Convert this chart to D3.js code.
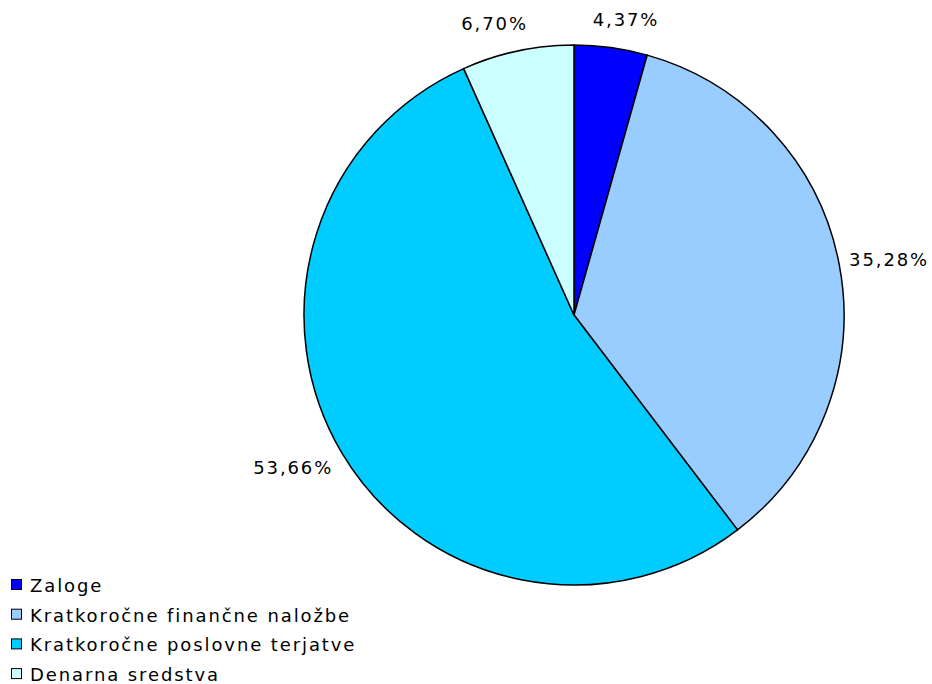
<!DOCTYPE html>
<html>
<head>
<meta charset="utf-8">
<script src="https://cdn.jsdelivr.net/npm/d3@7"></script>
<style>
  html, body { margin: 0; padding: 0; background: #ffffff; }
  svg { display: block; }
  text { font-family: "DejaVu Sans", Verdana, sans-serif; fill: #000; letter-spacing: 1.9px; }
</style>
</head>
<body>
<svg id="chart" width="932" height="684"></svg>
<script>
// Sestava kratkoročnih sredstev (deleži v %)
const categories = [
  "Zaloge",
  "Kratkoročne finančne naložbe",
  "Kratkoročne poslovne terjatve",
  "Denarna sredstva"
];
const shares = [4.37, 35.28, 53.66, 6.70];
const labels = ["4,37%", "35,28%", "53,66%", "6,70%"];
const colors = ["#0000FF", "#99CCFF", "#00CCFF", "#CCFFFF"];

const svg = d3.select("#chart");
const cx = 574, cy = 315, radius = 270;
const fontSize = 18;

const data = categories.map((c, i) => ({ name: c, value: shares[i], label: labels[i], color: colors[i] }));

const pie = d3.pie().value(d => d.value).sort(null);
const arcs = pie(data);
const arc = d3.arc().innerRadius(0).outerRadius(radius);

const g = svg.append("g").attr("transform", `translate(${cx},${cy})`);

g.selectAll("path.slice")
  .data(arcs)
  .enter().append("path")
  .attr("class", "slice")
  .attr("d", arc)
  .attr("fill", d => d.data.color)
  .attr("stroke", "#000")
  .attr("stroke-width", 1.5)
  .attr("stroke-linejoin", "round");

// Percentage labels outside the rim; the text box is shifted away from the
// anchor point along the mid-angle so it never overlaps the slice.
const gapX = 10, gapY = 18;
const lbl = g.selectAll("text.pct")
  .data(arcs)
  .enter().append("text")
  .attr("class", "pct")
  .attr("font-size", fontSize)
  .attr("text-anchor", "middle")
  .attr("dominant-baseline", "central")
  .text(d => d.data.label);

lbl.each(function(d) {
  const a = (d.startAngle + d.endAngle) / 2;
  const s = Math.sin(a), c = Math.cos(a);
  const bb = this.getBBox();
  const px = (radius + gapX) * s;
  const py = -(radius + gapY) * c;
  const push = Math.sign(s) * Math.min(1, Math.abs(s) * 3);
  const x = px + (bb.width / 2) * push;
  const y = py - (bb.height / 2) * c;
  d3.select(this).attr("x", x).attr("y", y);
});

// Legend, bottom-left
const legend = svg.append("g").attr("class", "legend");
const rowStep = 29.7, firstBaseline = 592;
const items = legend.selectAll("g.item")
  .data(data)
  .enter().append("g")
  .attr("class", "item")
  .attr("transform", (d, i) => `translate(0,${firstBaseline + i * rowStep})`);

items.append("rect")
  .attr("x", 11.5).attr("y", -12.5)
  .attr("width", 10).attr("height", 10)
  .attr("fill", d => d.color)
  .attr("stroke", "#000")
  .attr("stroke-width", 1);

items.append("text")
  .attr("x", 30).attr("y", 0)
  .attr("font-size", fontSize)
  .text(d => d.name);
</script>
</body>
</html>
